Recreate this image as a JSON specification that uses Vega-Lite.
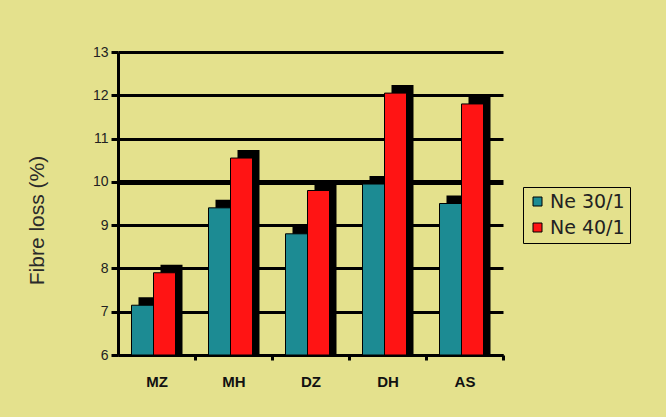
{
  "$schema": "https://vega.github.io/schema/vega-lite/v6.json",
  "width": 385,
  "height": 303,
  "autosize": {"type": "none"},
  "padding": {"left": 118, "top": 52, "right": 163, "bottom": 62},
  "background": "#e4e18d",
  "config": {"view": {"stroke": null}, "font": "Liberation Sans"},
  "data": {
    "values": [
      {"cat": "MZ", "series": "Ne 30/1", "v": 7.15},
      {"cat": "MZ", "series": "Ne 40/1", "v": 7.9},
      {"cat": "MH", "series": "Ne 30/1", "v": 9.4},
      {"cat": "MH", "series": "Ne 40/1", "v": 10.55},
      {"cat": "DZ", "series": "Ne 30/1", "v": 8.8},
      {"cat": "DZ", "series": "Ne 40/1", "v": 9.8},
      {"cat": "DH", "series": "Ne 30/1", "v": 9.95},
      {"cat": "DH", "series": "Ne 40/1", "v": 12.05},
      {"cat": "AS", "series": "Ne 30/1", "v": 9.5},
      {"cat": "AS", "series": "Ne 40/1", "v": 11.8}
    ]
  },
  "encoding": {
    "x": {
      "field": "cat", "type": "nominal", "sort": ["MZ", "MH", "DZ", "DH", "AS"],
      "scale": {"paddingInner": 0.43, "paddingOuter": 0.215},
      "axis": {
        "title": null, "labelAngle": 0, "labelFontSize": 15, "labelFontWeight": "bold",
        "labelColor": "#111", "domainColor": "black", "domainWidth": 3,
        "tickColor": "black", "tickWidth": 3, "tickSize": 5,
        "tickOffset": 38.5, "labelOffset": -38.5, "labelPadding": 14
      }
    },
    "y": {
      "field": "v", "type": "quantitative",
      "scale": {"domain": [6, 13], "zero": false, "nice": false},
      "axis": {
        "title": "Fibre loss (%)", "values": [6, 7, 8, 9, 10, 11, 12, 13],
        "grid": true, "gridColor": "black", "gridOpacity": 1,
        "gridWidth": {"condition": {"test": "datum.value === 10", "value": 5}, "value": 3},
        "domainColor": "black", "domainWidth": 3,
        "tickColor": "black", "tickWidth": 3, "tickSize": 7,
        "labelFontSize": 14, "labelColor": "#222", "labelPadding": 3,
        "titleFontSize": 21, "titleFontWeight": "normal", "titleColor": "#2a2a2a",
        "titleX": -71, "titleY": 168
      }
    },
    "y2": {"datum": 6}
  },
  "layer": [
    {
      "transform": [{"filter": "datum.series === 'Ne 30/1'"}],
      "mark": {"type": "bar", "color": "black", "width": 22, "xOffset": -7, "yOffset": -8}
    },
    {
      "transform": [{"filter": "datum.series === 'Ne 40/1'"}],
      "mark": {"type": "bar", "color": "black", "width": 22, "xOffset": 15, "yOffset": -8}
    },
    {
      "transform": [{"filter": "datum.series === 'Ne 30/1'"}],
      "mark": {"type": "bar", "stroke": "black", "strokeWidth": 1, "width": 22, "xOffset": -14},
      "encoding": {
        "color": {
          "field": "series", "type": "nominal",
          "scale": {"domain": ["Ne 30/1", "Ne 40/1"], "range": ["#1c8b93", "#ff1414"]},
          "legend": {
            "title": null, "orient": "none", "legendX": 405, "legendY": 135,
            "strokeColor": "black", "padding": 5,
            "symbolType": "square", "symbolSize": 81, "symbolStrokeColor": "black",
            "symbolStrokeWidth": 1, "labelFontSize": 19, "labelFont": "DejaVu Sans",
            "labelColor": "#222", "rowPadding": 6, "labelOffset": 3
          }
        }
      }
    },
    {
      "transform": [{"filter": "datum.series === 'Ne 40/1'"}],
      "mark": {"type": "bar", "stroke": "black", "strokeWidth": 1, "width": 22, "xOffset": 8},
      "encoding": {
        "color": {
          "field": "series", "type": "nominal",
          "scale": {"domain": ["Ne 30/1", "Ne 40/1"], "range": ["#1c8b93", "#ff1414"]},
          "legend": {
            "title": null, "orient": "none", "legendX": 405, "legendY": 135,
            "strokeColor": "black", "padding": 5,
            "symbolType": "square", "symbolSize": 81, "symbolStrokeColor": "black",
            "symbolStrokeWidth": 1, "labelFontSize": 19, "labelFont": "DejaVu Sans",
            "labelColor": "#222", "rowPadding": 6, "labelOffset": 3
          }
        }
      }
    }
  ]
}
